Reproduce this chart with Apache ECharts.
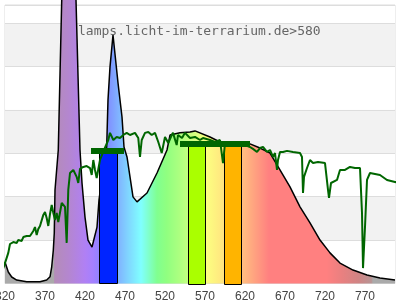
<!DOCTYPE html>
<html>
<head>
<meta charset="utf-8">
<script src="https://cdn.jsdelivr.net/npm/echarts@6/dist/echarts.min.js"></script>
<style>
html,body{margin:0;padding:0;background:#fff;}
#chart{width:400px;height:300px;}
</style>
</head>
<body>
<div id="chart"></div>
<script>
// ---- data ----
var titleText = 'lamps.licht-im-terrarium.de>580';
var xTicks = [320, 370, 420, 470, 520, 570, 620, 670, 720, 770];

// lamp spectrum [wavelength nm, relative value]
var lampWl = [320, 324.1, 328.4, 334.6, 347.1, 363.75, 372.1, 376.25, 378.4, 380.4, 381.6, 382.5, 386.6, 390.9, 399.1, 408.75, 413.75, 416.25, 420, 423.75, 428.75, 435, 437.5, 442.5, 447.1, 448.75, 451.25, 455, 457.5, 461.25, 466.25, 468.75, 472.5, 476.25, 480, 485, 497.5, 510, 522.5, 526.25, 538.75, 551.25, 557.5, 576.25, 588.75, 613.75, 626.25, 638.75, 651.25, 660, 676.25, 688.75, 701.25, 713.75, 726.25, 738.75, 755, 772.5, 788.75, 807.5];
var lampVal = [9.9, 5.3, 3.0, 1.6, 0.8, 0.8, 1.6, 3.1, 7.7, 15.4, 23.3, 43.1, 61.5, 130.6, 175.3, 130.6, 61.5, 46.3, 30.6, 20.0, 16.8, 26.0, 38.5, 52.0, 62.9, 84.6, 99.8, 114.5, 113.6, 92.4, 76.7, 62.9, 58.3, 49.1, 39.9, 37.6, 41.7, 50.9, 61.5, 68.4, 69.4, 69.8, 70.3, 67.5, 65.2, 64.7, 64.3, 62.4, 60.1, 54.6, 44.5, 35.3, 27.9, 20.0, 14.1, 9.4, 6.2, 3.9, 2.5, 1.6];

// reference (daylight) spectrum
var sunWl = [313.75, 317.9, 322.1, 324.1, 326.25, 330.4, 334.6, 336.6, 340.9, 342.9, 347.1, 351.25, 355.4, 357.5, 359.6, 361.6, 363.75, 367.9, 370, 372.1, 374.1, 376.25, 378.4, 380.4, 382.5, 384.6, 386.6, 390.9, 395, 397.1, 399.1, 401.25, 405.4, 409.6, 411.6, 413.75, 417.9, 422.1, 426.25, 428.4, 430.4, 432.5, 434.6, 438.75, 443.75, 449.1, 451.25, 455.4, 459.6, 463.75, 467.9, 472.1, 476.25, 482.5, 486.6, 488.75, 490.9, 495, 499.1, 503.4, 507.5, 511.6, 515.9, 520, 524.1, 528.4, 530, 534.6, 536.25, 541.25, 545, 551.25, 557.5, 563.75, 567.5, 576.25, 582.5, 588.75, 592.5, 595, 603.75, 610, 613.75, 626.25, 630, 635, 638.75, 642.5, 647.5, 651.25, 655, 657.5, 660, 661.25, 663.75, 667.5, 672.5, 680, 688.75, 691.25, 692.5, 693.75, 697.5, 701.25, 705, 711.25, 720, 723.75, 725, 727.5, 730, 735, 738.75, 745, 751.25, 757.5, 763.75, 766.25, 767.5, 770, 772.5, 776.25, 788.75, 797.5, 807.5, 813.75];
var sunVal = [4.8, 7.1, 11.8, 14.1, 18.2, 19.1, 18.7, 20.0, 19.6, 21.4, 21.9, 21.9, 24.2, 26.0, 22.3, 25.1, 26.5, 31.6, 32.9, 30.2, 26.5, 32.0, 36.2, 32.5, 29.3, 32.5, 28.3, 37.1, 35.3, 18.7, 43.1, 50.9, 52.3, 49.1, 46.3, 52.8, 53.7, 54.1, 53.2, 50.0, 56.9, 52.3, 48.6, 56.9, 61.5, 66.1, 69.4, 66.1, 67.5, 67.0, 68.4, 69.4, 68.4, 69.4, 67.0, 58.3, 66.1, 69.4, 69.8, 68.4, 69.4, 65.2, 60.1, 67.5, 64.7, 68.4, 69.4, 63.8, 68.4, 67.0, 69.4, 67.0, 67.5, 66.1, 67.0, 66.1, 65.2, 66.1, 55.5, 64.7, 64.7, 63.8, 64.7, 62.9, 62.0, 60.6, 62.4, 62.9, 60.6, 61.5, 58.3, 60.1, 52.3, 56.9, 60.6, 60.6, 61.1, 60.6, 60.1, 58.3, 41.7, 49.1, 53.2, 56.9, 55.5, 56.0, 55.5, 43.1, 39.4, 46.3, 46.8, 47.7, 52.3, 52.3, 53.7, 53.2, 53.2, 32.5, 7.1, 26.0, 47.7, 50.9, 50.0, 47.7, 46.8, 46.3];

// colour bands [start nm, end nm, top value]
var bandStart = [437.5, 548.75, 593.75];
var bandEnd = [460, 570, 615];
var bandTop = [59.9, 64.3, 63.4];

// dark markers [start nm, end nm, value]
var markStart = [427.5, 538.75];
var markEnd = [468.75, 626.25];
var markVal = [61.0, 64.3];

// ---- styles ----
var bandColors = ['#0024ff', '#aaff00', '#ffb400'];
var specStops = [
  [320, '#aaaaaa'], [381, '#aaaaaa'], [382, '#b48cb8'], [400, '#b486d0'], [420, '#b080f4'],
  [430, '#a480ff'], [440, '#8c84ff'], [452, '#8098ff'], [462, '#80b4ff'], [475, '#80d8ff'],
  [490, '#80ffff'], [500, '#80ffc8'], [510, '#80ff90'], [522, '#90ff80'], [540, '#b0ff80'],
  [558, '#d8ff80'], [572, '#fcff80'], [590, '#ffe880'], [605, '#ffd080'], [620, '#ffb880'],
  [635, '#ff9c80'], [650, '#ff8080'], [722, '#ff8080'], [742, '#e88080'], [762, '#d08484'],
  [778, '#b89494'], [780, '#aaaaaa'], [807.5, '#aaaaaa']
];
var xMin = 320, xMax = 807.5;

function pairs(a, b) { return a.map(function (v, i) { return [v, b[i]]; }); }

var chart = echarts.init(document.getElementById('chart'), null, {renderer: 'canvas'});
var stops = specStops.map(function (s) {
  return {offset: Math.min(1, Math.max(0, (s[0] - lampWl[0]) / (lampWl[lampWl.length - 1] - lampWl[0]))), color: s[1]};
});

chart.setOption({
  animation: false,
  grid: {left: 5, right: 5, top: 5, bottom: 16.5, containLabel: false, outerBoundsMode: 'none',
    show: true, borderColor: '#dddddd', borderWidth: 1, backgroundColor: 'transparent'},
  xAxis: {
    type: 'value', min: xMin, max: xMax, interval: 50,
    axisLine: {show: false}, axisTick: {show: false}, splitLine: {show: false},
    axisLabel: {
      show: true, margin: 7, color: '#444', fontSize: 12, fontFamily: 'Liberation Sans, Arial, sans-serif',
      showMaxLabel: false, hideOverlap: false,
      formatter: function (v) { return xTicks.indexOf(Math.round(v)) >= 0 ? String(Math.round(v)) : ''; }
    }
  },
  yAxis: {
    type: 'value', min: 0, max: 128.3, interval: 20,
    axisLine: {show: false}, axisTick: {show: false}, axisLabel: {show: false},
    splitLine: {show: true, lineStyle: {color: '#dddddd', width: 1}},
    splitArea: {show: true, areaStyle: {color: ['#ffffff', '#f2f2f2']}}
  },
  graphic: [{
    type: 'text', left: 78, top: 25, z: 100,
    style: {text: titleText, font: '13px "DejaVu Sans Mono", monospace', fill: '#666666'}
  }],
  series: [
    {
      type: 'line', name: 'lamp', data: pairs(lampWl, lampVal), showSymbol: false, clip: false, z: 2,
      lineStyle: {color: '#000', width: 1.5},
      areaStyle: {opacity: 1, color: new echarts.graphic.LinearGradient(0, 0, 1, 0, stops)}
    },
    {
      type: 'custom', name: 'bands', z: 3,
      data: bandStart.map(function (s, i) { return [s, bandEnd[i], bandTop[i]]; }),
      renderItem: function (params, api) {
        var p1 = api.coord([api.value(0), api.value(2)]);
        var p2 = api.coord([api.value(1), 0]);
        return {
          type: 'rect',
          shape: {x: Math.round(p1[0]) + 0.5, y: Math.round(p1[1]) + 0.5, width: Math.round(p2[0] - p1[0]), height: Math.round(p2[1] - p1[1])},
          style: {fill: bandColors[params.dataIndex], stroke: '#000', lineWidth: 1}
        };
      }
    },
    {
      type: 'line', name: 'sun', data: pairs(sunWl, sunVal), showSymbol: false, clip: false, z: 4,
      lineStyle: {color: '#006600', width: 2}
    },
    {
      type: 'custom', name: 'marks', z: 5,
      data: markStart.map(function (s, i) { return [s, markEnd[i], markVal[i]]; }),
      renderItem: function (params, api) {
        var p1 = api.coord([api.value(0), api.value(2)]);
        var p2 = api.coord([api.value(1), api.value(2)]);
        return {
          type: 'rect',
          shape: {x: p1[0], y: p1[1] - 3, width: p2[0] - p1[0], height: 6},
          style: {fill: '#006600'}
        };
      }
    }
  ]
});
</script>
</body>
</html>
